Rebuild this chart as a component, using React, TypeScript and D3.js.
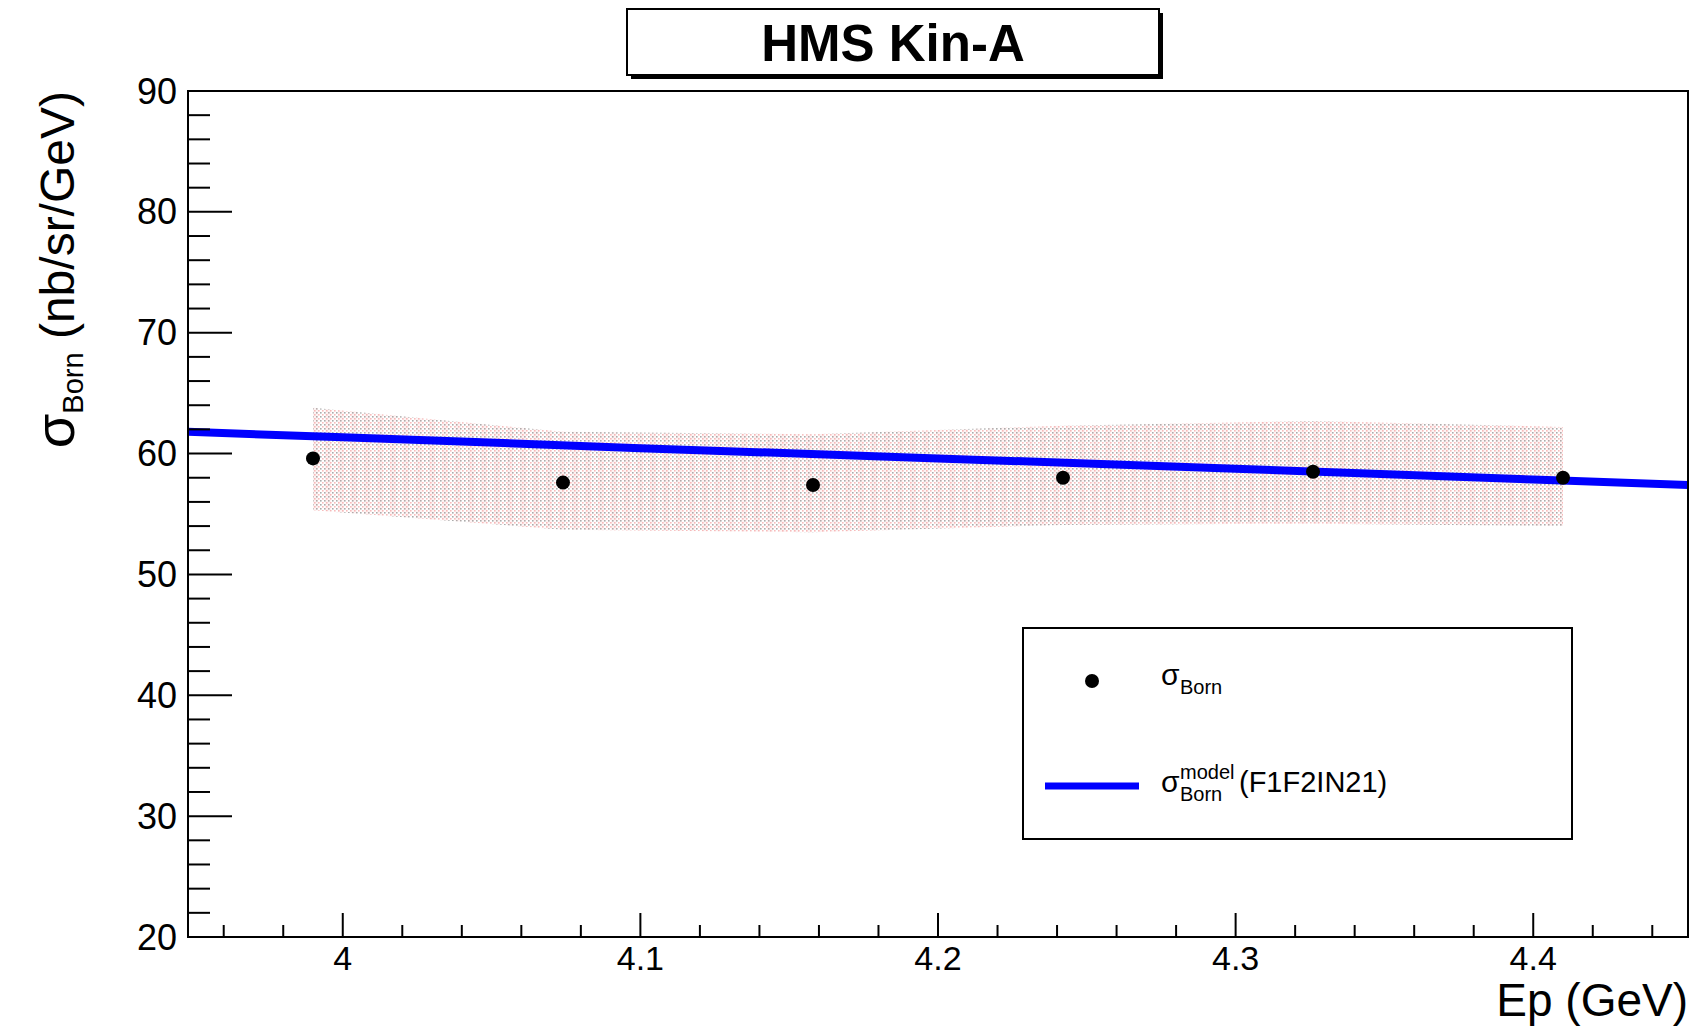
import React from "react";
import * as d3 from "d3";

// ---- data ----
const epPoints = [3.99, 4.074, 4.158, 4.242, 4.326, 4.41];
const sigmaBorn = [59.6, 57.6, 57.4, 58.0, 58.5, 58.0];
const bandUpper = [63.8, 61.8, 61.6, 62.3, 62.7, 62.2];
const bandLower = [55.3, 53.7, 53.5, 54.1, 54.2, 54.0];

const modelEp = [3.948, 4.0, 4.1, 4.2, 4.3, 4.4, 4.452];
const modelSigma = [61.8, 61.35, 60.45, 59.6, 58.75, 57.85, 57.4];

const xMajorTicks = [4.0, 4.1, 4.2, 4.3, 4.4];
const xTickLabels = ["4", "4.1", "4.2", "4.3", "4.4"];
const yMajorTicks = [20, 30, 40, 50, 60, 70, 80, 90];

const FONT = "'Liberation Sans', Arial, Helvetica, sans-serif";

export default function App() {
  const W = 1696;
  const H = 1031;
  const left = 188;
  const right = 1688;
  const top = 91;
  const bottom = 937;

  const x = d3.scaleLinear().domain([3.948, 4.452]).range([left, right]);
  const y = d3.scaleLinear().domain([20, 90]).range([bottom, top]);

  const xMinor = d3.range(3.96, 4.4501, 0.02).filter(
    (v) => !xMajorTicks.some((m) => Math.abs(m - v) < 1e-6)
  );
  const yMinor = d3.range(20, 90.001, 2).filter((v) => v % 10 !== 0);

  const bandData = epPoints.map((e, i) => ({ e, lo: bandLower[i], hi: bandUpper[i] }));
  const area = d3
    .area<{ e: number; lo: number; hi: number }>()
    .x((d) => x(d.e))
    .y0((d) => y(d.lo))
    .y1((d) => y(d.hi));

  const modelLine = d3
    .line<number>()
    .x((_, i) => x(modelEp[i]))
    .y((d) => y(d));

  const yTickLen = 44;
  const xTickLen = 24;

  return (
    <svg
      width={W}
      height={H}
      style={{ position: "absolute", left: 0, top: 0, background: "#fff" }}
      fontFamily={FONT}
    >
      <defs>
        <pattern id="dots" width={4} height={4} patternUnits="userSpaceOnUse">
          <rect x={0} y={0} width={1.6} height={1.6} fill="#9c9c9c" />
          <rect x={2} y={2} width={1.6} height={1.6} fill="#f5b0b0" />
        </pattern>
        <pattern id="stripes" width={13} height={4} patternUnits="userSpaceOnUse">
          <rect x={0} y={0} width={6} height={4} fill="#f4a0a0" opacity={0.12} />
        </pattern>
        <clipPath id="plotclip">
          <rect x={left} y={top} width={right - left} height={bottom - top} />
        </clipPath>
      </defs>

      <rect x={0} y={0} width={W} height={H} fill="#fff" />

      {/* band */}
      <g clipPath="url(#plotclip)">
        <path d={area(bandData) || ""} fill="url(#dots)" opacity={0.85} />
        <path d={area(bandData) || ""} fill="url(#stripes)" />
        {/* model line */}
        <path
          d={modelLine(modelSigma) || ""}
          fill="none"
          stroke="#0000ff"
          strokeWidth={8}
        />
      </g>

      {/* data points */}
      {epPoints.map((e, i) => (
        <circle key={i} cx={x(e)} cy={y(sigmaBorn[i])} r={7} fill="#000" />
      ))}

      {/* frame */}
      <rect
        x={left}
        y={top}
        width={right - left}
        height={bottom - top}
        fill="none"
        stroke="#000"
        strokeWidth={2}
      />

      {/* y ticks */}
      {yMajorTicks.map((v) => (
        <g key={"ym" + v}>
          <line x1={left} x2={left + yTickLen} y1={y(v)} y2={y(v)} stroke="#000" strokeWidth={2} />
          <text
            x={177}
            y={y(v)}
            textAnchor="end"
            dominantBaseline="central"
            fontSize={36}
            fill="#000"
          >
            {v}
          </text>
        </g>
      ))}
      {yMinor.map((v) => (
        <line
          key={"yn" + v}
          x1={left}
          x2={left + yTickLen / 2}
          y1={y(v)}
          y2={y(v)}
          stroke="#000"
          strokeWidth={2}
        />
      ))}

      {/* x ticks */}
      {xMajorTicks.map((v, i) => (
        <g key={"xm" + v}>
          <line x1={x(v)} x2={x(v)} y1={bottom} y2={bottom - xTickLen} stroke="#000" strokeWidth={2} />
          <text x={x(v)} y={970} textAnchor="middle" fontSize={34} fill="#000">
            {xTickLabels[i]}
          </text>
        </g>
      ))}
      {xMinor.map((v) => (
        <line
          key={"xn" + v.toFixed(2)}
          x1={x(v)}
          x2={x(v)}
          y1={bottom}
          y2={bottom - xTickLen / 2}
          stroke="#000"
          strokeWidth={2}
        />
      ))}

      {/* axis titles */}
      <text x={right} y={1016} textAnchor="end" fontSize={46} fill="#000">
        Ep (GeV)
      </text>
      <g transform={`translate(74, ${top}) rotate(-90)`}>
        <text textAnchor="end" fontSize={48} fill="#000">
          <tspan fontSize={56}>σ</tspan>
          <tspan fontSize={29} dy={9}>
            Born
          </tspan>
          <tspan dy={-9}> (nb/sr/GeV)</tspan>
        </text>
      </g>

      {/* title box */}
      <rect x={631} y={13} width={532} height={66} fill="#000" />
      <rect x={627} y={9} width={532} height={66} fill="#fff" stroke="#000" strokeWidth={2} />
      <text x={893} y={61} textAnchor="middle" fontSize={51} fontWeight="bold" fill="#000">
        HMS Kin-A
      </text>

      {/* legend */}
      <rect x={1023} y={628} width={549} height={211} fill="#fff" stroke="#000" strokeWidth={2} />
      <circle cx={1092} cy={681} r={7} fill="#000" />
      <text x={1161} y={685} fontSize={30} fill="#000">
        σ
      </text>
      <text x={1180} y={694} fontSize={20} fill="#000">
        Born
      </text>
      <line x1={1045} x2={1139} y1={786} y2={786} stroke="#0000ff" strokeWidth={7} />
      <text x={1161} y={792} fontSize={30} fill="#000">
        σ
      </text>
      <text x={1180} y={779} fontSize={20} fill="#000">
        model
      </text>
      <text x={1180} y={801} fontSize={20} fill="#000">
        Born
      </text>
      <text x={1239} y={792} fontSize={29} fill="#000">
        (F1F2IN21)
      </text>
    </svg>
  );
}
